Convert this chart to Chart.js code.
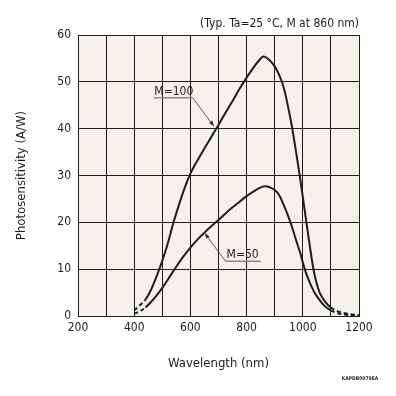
<!DOCTYPE html>
<html>
<head>
<meta charset="utf-8">
<script src="https://cdn.jsdelivr.net/npm/chart.js@4.4.1/dist/chart.umd.min.js"></script>
<style>
  html, body { margin: 0; padding: 0; background: #ffffff; }
</style>
</head>
<body>
<canvas id="chart" width="396" height="396"></canvas>
<script>
// Curva M=100 (longitud de onda en nm, fotosensibilidad en A/W)
const wavelengthM100 = [400, 420, 440, 460, 480, 500, 520, 540, 560, 580, 600, 625, 650, 675, 700, 725, 750, 775, 800, 825, 845, 860, 880, 900, 915, 930, 945, 960, 975, 990, 1005, 1020, 1035, 1045, 1060, 1080, 1100, 1125, 1150, 1175, 1200];
const sensM100 = [1.2, 2.3, 3.5, 5.6, 8.5, 11.8, 15.6, 20.0, 23.9, 27.4, 30.4, 33.2, 35.8, 38.3, 40.8, 43.4, 45.9, 48.5, 50.9, 53.1, 54.6, 55.4, 54.7, 53.3, 51.6, 49.2, 45.4, 40.9, 35.4, 29.6, 23.3, 17.0, 11.0, 8.0, 5.0, 3.0, 1.8, 1.0, 0.6, 0.3, 0.2];

// Curva M=50
const wavelengthM50 = [400, 420, 440, 460, 480, 500, 520, 545, 570, 600, 625, 650, 675, 700, 725, 750, 775, 800, 825, 845, 865, 885, 900, 915, 930, 945, 960, 975, 990, 1005, 1020, 1040, 1060, 1080, 1100, 1125, 1150, 1175, 1200];
const sensM50 = [0.5, 1.0, 1.8, 3.0, 4.4, 6.0, 7.8, 10.1, 12.3, 14.6, 16.3, 17.8, 19.2, 20.5, 21.9, 23.2, 24.4, 25.6, 26.6, 27.3, 27.7, 27.4, 26.9, 25.9, 24.0, 21.8, 19.3, 16.4, 13.6, 10.4, 7.8, 5.2, 3.4, 2.0, 1.2, 0.6, 0.3, 0.1, 0.05];

// Tramos punteados (fuera del rango medido)
const dashedBelow = 440;
const dashedAbove = 1100;

// Etiquetas de las curvas (coordenadas en unidades de datos)
const curveLabels = ['M=100', 'M=50'];
const labelX = [541, 786];
const labelY = [47.8, 13.1];
const underlineFromX = [470, 725];
const underlineToX = [608, 850];
const underlineY = [46.6, 11.7];
const leaderFrom = [[608, 46.6], [725, 11.7]];
const leaderTip = [[684, 40.5], [651, 17.7]];

const titleNote = '(Typ. Ta=25 \u00b0C, M at 860 nm)';
const docCode = 'KAPDB0079EA';

const FONT = "'DejaVu Sans Condensed', 'DejaVu Sans', sans-serif";
const INK = '#1e1e1e';

const toPoints = (xs, ys) => xs.map((x, i) => ({ x: x, y: ys[i] }));

const dashedSegment = ctx =>
  (ctx.p1.parsed.x <= dashedBelow || ctx.p0.parsed.x >= dashedAbove) ? [4, 3] : undefined;

// Fondo beige del área de trazado
const plotBackground = {
  id: 'plotBackground',
  beforeDraw(chart) {
    const { ctx, chartArea: a } = chart;
    ctx.save();
    ctx.fillStyle = '#f4f1ea';
    ctx.fillRect(a.left, a.top, a.right - a.left, a.bottom - a.top);
    ctx.restore();
  }
};

// Textos y flechas de anotación
const annotations = {
  id: 'annotations',
  afterDraw(chart) {
    const { ctx, chartArea: a, scales } = chart;
    const px = v => scales.x.getPixelForValue(v);
    const py = v => scales.y.getPixelForValue(v);
    ctx.save();

    ctx.fillStyle = INK;
    ctx.font = '12px ' + FONT;
    ctx.textAlign = 'right';
    ctx.textBaseline = 'middle';
    ctx.fillText(titleNote, a.right, 24);

    ctx.font = 'bold 5px ' + FONT;
    ctx.textAlign = 'center';
    ctx.fillText(docCode, 360, 379);

    curveLabels.forEach((txt, i) => {
      ctx.font = '12px ' + FONT;
      ctx.textAlign = 'center';
      ctx.textBaseline = 'middle';
      ctx.fillStyle = INK;
      ctx.fillText(txt, px(labelX[i]), py(labelY[i]));

      ctx.strokeStyle = '#8a8a8a';
      ctx.lineWidth = 1.5;
      ctx.beginPath();
      ctx.moveTo(px(underlineFromX[i]), py(underlineY[i]));
      ctx.lineTo(px(underlineToX[i]), py(underlineY[i]));
      ctx.stroke();

      const x0 = px(leaderFrom[i][0]), y0 = py(leaderFrom[i][1]);
      const x1 = px(leaderTip[i][0]), y1 = py(leaderTip[i][1]);
      ctx.strokeStyle = '#333';
      ctx.lineWidth = 0.8;
      ctx.beginPath();
      ctx.moveTo(x0, y0);
      ctx.lineTo(x1, y1);
      ctx.stroke();

      const ang = Math.atan2(y1 - y0, x1 - x0);
      const len = 6, spread = 0.35;
      ctx.fillStyle = '#333';
      ctx.beginPath();
      ctx.moveTo(x1, y1);
      ctx.lineTo(x1 - len * Math.cos(ang - spread), y1 - len * Math.sin(ang - spread));
      ctx.lineTo(x1 - len * Math.cos(ang + spread), y1 - len * Math.sin(ang + spread));
      ctx.closePath();
      ctx.fill();
    });
    ctx.restore();
  }
};

const lineStyle = {
  borderColor: INK,
  borderWidth: 2,
  pointRadius: 0,
  fill: false,
  tension: 0.4,
  segment: { borderDash: dashedSegment }
};

new Chart(document.getElementById('chart'), {
  type: 'line',
  data: {
    datasets: [
      Object.assign({ label: 'M=100', data: toPoints(wavelengthM100, sensM100) }, lineStyle),
      Object.assign({ label: 'M=50', data: toPoints(wavelengthM50, sensM50) }, lineStyle)
    ]
  },
  options: {
    responsive: false,
    animation: false,
    layout: { padding: { left: 0, top: 35, right: 37, bottom: 0 } },
    plugins: {
      legend: { display: false },
      tooltip: { enabled: false }
    },
    scales: {
      x: {
        type: 'linear',
        min: 200,
        max: 1200,
        border: { display: true, color: INK, width: 1 },
        grid: { color: INK, lineWidth: 1, drawTicks: false },
        ticks: {
          stepSize: 100,
          autoSkip: false,
          maxRotation: 0,
          padding: 5,
          color: INK,
          font: { family: FONT, size: 12 },
          callback: v => (v % 200 === 0 ? String(v) : '')
        },
        title: {
          display: true,
          text: 'Wavelength (nm)',
          color: INK,
          font: { family: FONT, size: 13 },
          padding: { top: 0, bottom: 25 }
        },
        afterFit: scale => { scale.height = 80; }
      },
      y: {
        min: 0,
        max: 60,
        border: { display: true, color: INK, width: 1 },
        grid: { color: INK, lineWidth: 1, drawTicks: false },
        ticks: {
          stepSize: 10,
          padding: 7,
          color: INK,
          font: { family: FONT, size: 12 }
        },
        title: {
          display: true,
          text: 'Photosensitivity (A/W)',
          color: INK,
          font: { family: FONT, size: 13 },
          padding: { top: 14, bottom: 0 }
        },
        afterFit: scale => { scale.width = 78; }
      }
    }
  },
  plugins: [plotBackground, annotations]
});
</script>
</body>
</html>
